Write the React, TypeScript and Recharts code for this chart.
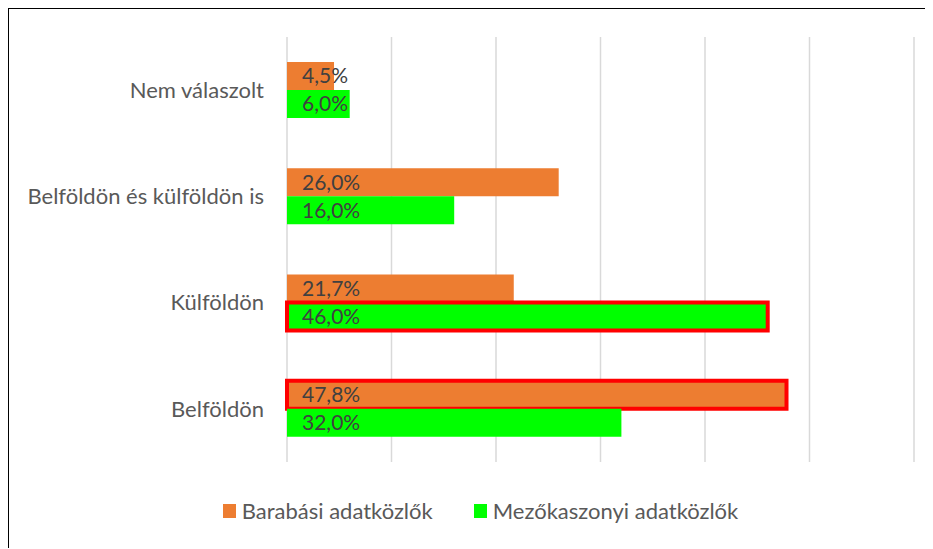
import React from 'react';
import {
  BarChart,
  Bar,
  XAxis,
  YAxis,
  CartesianGrid,
  Legend,
  LabelList,
  Cell,
} from 'recharts';

const categories = [
  'Nem válaszolt',
  'Belföldön és külföldön is',
  'Külföldön',
  'Belföldön',
];
const barabasi = [4.5, 26.0, 21.7, 47.8];
const mezokaszonyi = [6.0, 16.0, 46.0, 32.0];
// which bars get the red outline
const barabasiHighlight = [false, false, false, true];
const mezokaszonyiHighlight = [false, false, true, false];
const xTicks = [0, 10, 20, 30, 40, 50, 60];

const data = categories.map((name, i) => ({
  name,
  barabasi: barabasi[i],
  mezokaszonyi: mezokaszonyi[i],
}));

const FONT = 'Lato, "Liberation Sans", sans-serif';
const ORANGE = '#ED7D31';
const GREEN = '#00FF00';

const fmt = (v: any) => `${Number(v).toFixed(1).replace('.', ',')}%`;

const LegendContent = (props: any) => {
  const { payload } = props;
  return (
    <div
      style={{
        display: 'flex',
        justifyContent: 'center',
        paddingLeft: 20,
        fontFamily: FONT,
        fontSize: 22,
        lineHeight: '26px',
        color: '#595959',
      }}
    >
      {(payload || []).map((p: any, i: number) => (
        <div
          key={p.value}
          style={{
            display: 'flex',
            alignItems: 'center',
            marginRight: i === 0 ? 41 : 0,
          }}
        >
          <span
            style={{
              display: 'inline-block',
              width: 13,
              height: 14,
              background: p.color,
              marginRight: 6,
            }}
          />
          <span>{p.value}</span>
        </div>
      ))}
    </div>
  );
};

const App: React.FC = () => {
  return (
    <div
      style={{
        width: 923,
        height: 539,
        borderLeft: '2px solid #000',
        borderTop: '2px solid #000',
        marginLeft: -1,
        marginTop: -1,
      }}
    >
      <BarChart
        width={923}
        height={539}
        data={data}
        layout='vertical'
        margin={{ top: 28, right: 18, bottom: 60, left: 0 }}
        barCategoryGap={25}
        barGap={0}
      >
        <CartesianGrid
          horizontal={false}
          stroke='#d9d9d9'
          strokeWidth={1.5}
        />
        <XAxis
          type='number'
          domain={[0, 60]}
          ticks={xTicks}
          hide
        />
        <YAxis
          type='category'
          dataKey='name'
          width={278}
          axisLine={false}
          tickLine={false}
          tickMargin={17}
          tick={{ fill: '#595959', fontSize: 22, fontFamily: FONT }}
        />
        <Legend
          verticalAlign='bottom'
          wrapperStyle={{ bottom: 24, left: 0, width: 923 }}
          content={<LegendContent />}
        />
        <Bar
          dataKey='barabasi'
          name='Barabási adatközlők'
          fill={ORANGE}
          isAnimationActive={false}
        >
          {barabasiHighlight.map((h, i) => (
            <Cell
              key={i}
              fill={ORANGE}
              stroke={h ? '#FF0000' : 'none'}
              strokeWidth={h ? 4 : 0}
            />
          ))}
          <LabelList
            dataKey='barabasi'
            position='insideLeft'
            offset={15}
            formatter={fmt}
            fill='#404040'
            fontSize={21}
            fontFamily={FONT}
          />
        </Bar>
        <Bar
          dataKey='mezokaszonyi'
          name='Mezőkaszonyi adatközlők'
          fill={GREEN}
          isAnimationActive={false}
        >
          {mezokaszonyiHighlight.map((h, i) => (
            <Cell
              key={i}
              fill={GREEN}
              stroke={h ? '#FF0000' : 'none'}
              strokeWidth={h ? 4 : 0}
            />
          ))}
          <LabelList
            dataKey='mezokaszonyi'
            position='insideLeft'
            offset={15}
            formatter={fmt}
            fill='#404040'
            fontSize={21}
            fontFamily={FONT}
          />
        </Bar>
      </BarChart>
    </div>
  );
};

export default App;
